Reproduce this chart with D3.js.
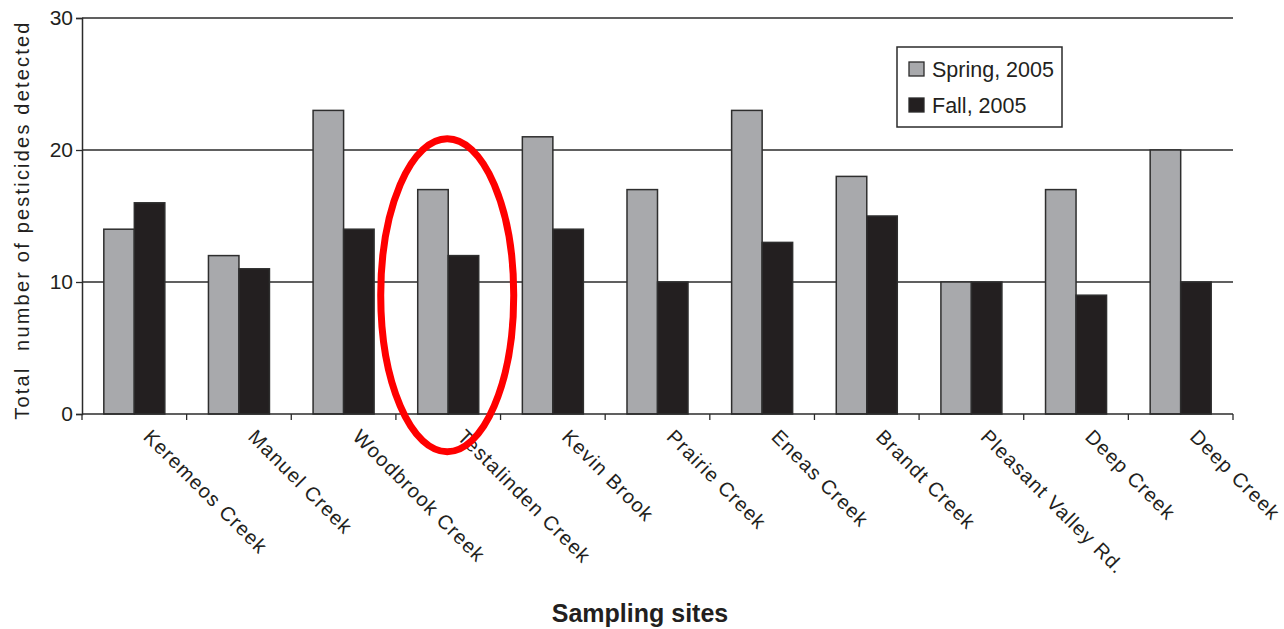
<!DOCTYPE html>
<html>
<head>
<meta charset="utf-8">
<script src="https://cdn.jsdelivr.net/npm/d3@7/dist/d3.min.js"></script>
<style>
  html, body { margin: 0; padding: 0; background: #fff; }
  svg { display: block; }
  text { font-family: "Liberation Sans", Arial, Helvetica, sans-serif; fill: #231f20; }
</style>
</head>
<body>
<svg id="chart" width="1284" height="629"></svg>
<script>
// Sampling sites along the x axis
const sites = [
  "Keremeos Creek", "Manuel Creek", "Woodbrook Creek", "Testalinden Creek",
  "Kevin Brook", "Prairie Creek", "Eneas Creek", "Brandt Creek",
  "Pleasant Valley Rd.", "Deep Creek", "Deep Creek"
];
// Number of pesticides detected per site
const spring2005 = [14, 12, 23, 17, 21, 17, 23, 18, 10, 17, 20];
const fall2005   = [16, 11, 14, 12, 14, 10, 13, 15, 10, 9, 10];
const seriesNames = ["Spring, 2005", "Fall, 2005"];
const yTicks = [0, 10, 20, 30];
// Site highlighted with the red ellipse
const highlighted = 3;

const colors = ["#a8a9ac", "#231f20"];
const svg = d3.select("#chart");
const m = { left: 82, right: 1233, top: 18, bottom: 414 };

const keys = sites.map((s, i) => i);
const x = d3.scaleBand().domain(keys).range([m.left, m.right]).paddingInner(0).paddingOuter(0);
const xInner = d3.scaleBand().domain([0, 1]).range([0, x.bandwidth()]).paddingOuter(0.715).paddingInner(0);
const y = d3.scaleLinear().domain([0, 30]).range([m.bottom, m.top]);

// Horizontal grid lines
svg.append("g").selectAll("line").data(yTicks.filter(t => t > 0)).join("line")
  .attr("x1", m.left).attr("x2", m.right)
  .attr("y1", d => y(d)).attr("y2", d => y(d))
  .attr("stroke", "#2b2b2b").attr("stroke-width", 1.3);

// Bars
const rows = keys.map(i => [spring2005[i], fall2005[i]]);
const groups = svg.append("g").selectAll("g").data(rows).join("g")
  .attr("transform", (d, i) => `translate(${x(i)},0)`);
groups.selectAll("rect").data(d => d.map((v, s) => ({ v, s }))).join("rect")
  .attr("x", d => xInner(d.s))
  .attr("width", xInner.bandwidth())
  .attr("y", d => y(d.v))
  .attr("height", d => y(0) - y(d.v))
  .attr("fill", d => colors[d.s])
  .attr("stroke", "#2e2e2e").attr("stroke-width", 1.5);

// Y axis
const yAxis = svg.append("g").attr("transform", `translate(${m.left},0)`)
  .call(d3.axisLeft(y).tickValues(yTicks).tickSize(6).tickPadding(3));
yAxis.select(".domain").attr("stroke", "#2b2b2b").attr("stroke-width", 1.5);
yAxis.selectAll(".tick line").attr("stroke", "#2b2b2b").attr("stroke-width", 1.3);
yAxis.selectAll(".tick text").style("font-size", "21px")
  .style("font-family", "'Liberation Sans', Arial, sans-serif").attr("fill", "#231f20");

// X axis: ticks mark group boundaries
const bounds = d3.range(sites.length + 1).map(i => m.left + i * x.step());
svg.append("line").attr("x1", m.left).attr("x2", m.right)
  .attr("y1", m.bottom).attr("y2", m.bottom)
  .attr("stroke", "#2b2b2b").attr("stroke-width", 1.5);
svg.append("g").selectAll("line").data(bounds).join("line")
  .attr("x1", d => d).attr("x2", d => d)
  .attr("y1", m.bottom).attr("y2", m.bottom + 6)
  .attr("stroke", "#2b2b2b").attr("stroke-width", 1.3);

// Rotated site labels
svg.append("g").selectAll("text").data(sites).join("text")
  .attr("transform", (d, i) => `translate(${x(i) + x.bandwidth() / 2 + 8},${m.bottom + 24}) rotate(45)`)
  .attr("text-anchor", "start")
  .style("font-size", "20px")
  .style("letter-spacing", "1.1px")
  .text(d => d);

// Axis titles
svg.append("text")
  .attr("transform", `translate(29,${(m.top + m.bottom) / 2 + 4}) rotate(-90)`)
  .attr("text-anchor", "middle")
  .style("font-size", "20px")
  .style("letter-spacing", "2.2px")
  .style("white-space", "pre")
  .text("Total  number of pesticides detected");

svg.append("text")
  .attr("x", 640).attr("y", 622)
  .attr("text-anchor", "middle")
  .style("font-size", "25px").style("font-weight", "bold")
  .text("Sampling sites");

// Legend
const lg = svg.append("g").attr("transform", "translate(897,47)");
lg.append("rect").attr("width", 165).attr("height", 80)
  .attr("fill", "#fff").attr("stroke", "#2b2b2b").attr("stroke-width", 1.5);
seriesNames.forEach((name, i) => {
  lg.append("rect").attr("x", 12).attr("y", 15 + i * 36).attr("width", 15).attr("height", 14)
    .attr("fill", colors[i]).attr("stroke", "#2b2b2b").attr("stroke-width", 1.3);
  lg.append("text").attr("x", 35).attr("y", 30 + i * 36)
    .style("font-size", "21.5px").text(name);
});

// Highlight ellipse around one site
svg.append("ellipse")
  .attr("cx", x(highlighted) + x.bandwidth() / 2 - 1)
  .attr("cy", y(9.0))
  .attr("rx", 66.5).attr("ry", 156.5)
  .attr("fill", "none").attr("stroke", "#ff0000").attr("stroke-width", 7);
</script>
</body>
</html>
